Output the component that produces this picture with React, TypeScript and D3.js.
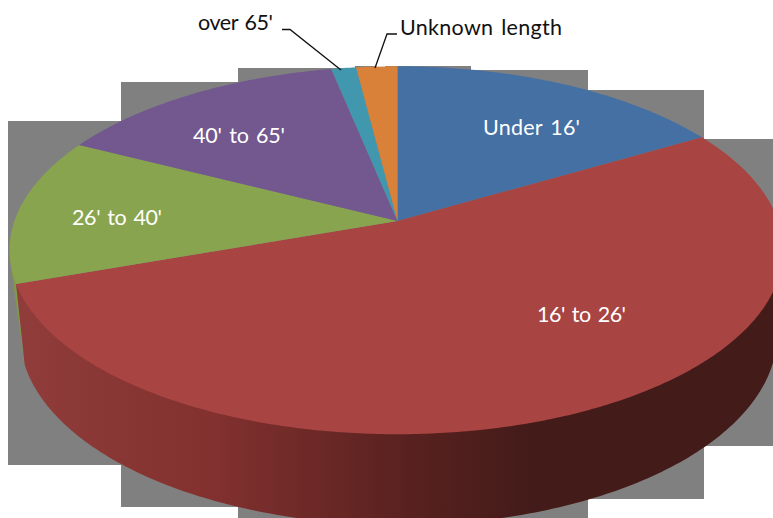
import React from "react";
import * as d3 from "d3";

// ---- data ----
const categories = ["Under 16'", "16' to 26'", "26' to 40'", "40' to 65'", "over 65'", "Unknown length"];
const shares = [16.6, 53.0, 12.9, 14.3, 1.2, 2.0];
const sliceColors = ["#4570a4", "#a84442", "#89a44e", "#72588f", "#4197ad", "#d98139"];

// stepped grey backdrop behind the pie
const stepEdges = [8, 121, 238, 355, 471, 588, 704, 773];
const stepTops = [121, 82, 68, 66, 70, 90, 139];
const stepBottoms = [465, 507, 518, 518, 518, 499, 446];

// label placement: [left x, baseline y, width]
const labelPlace: [number, number, number][] = [
  [483, 135, 97],
  [537, 322, 89],
  [72, 225, 90],
  [193, 143, 92],
  [198, 30, 75],
  [400, 35, 162],
];
const labelFill = ["#fff", "#fff", "#fff", "#fff", "#111", "#111"];

const leaderOver: [number, number][] = [[282, 29.5], [290, 29.5], [341, 70]];
const leaderUnknown: [number, number][] = [[397, 34], [387, 34], [375, 68]];

// ---- geometry ----
const W = 773, H = 518;
const top = { cx: 397.5, cy: 250.25, rxL: 388, rxR: 385.5, ry: 184 };
const bottom = { cx: 400, cy: 335, rxL: 380, rxR: 377, ry: 190 };
const apexY = 221;
const v0 = (apexY - top.cy) / top.ry;

// projective map: angle clockwise from the top of a circle -> point on the tilted face
function project(a: number, r = 1): [number, number] {
  const c = Math.sin(a) * r;
  const s = -Math.cos(a) * r;
  const d = 1 + v0 * s;
  const u = (c * Math.sqrt(1 - v0 * v0)) / d;
  const v = (s + v0) / d;
  return [top.cx + u * (u < 0 ? top.rxL : top.rxR), top.cy + v * top.ry];
}
const ell = (e: typeof top, deg: number): [number, number] => {
  const co = Math.cos((deg * Math.PI) / 180);
  return [e.cx + (co < 0 ? e.rxL : e.rxR) * co, e.cy + e.ry * Math.sin((deg * Math.PI) / 180)];
};

const pie = d3.pie<number>().sort(null).value((d) => d).startAngle(0).endAngle(2 * Math.PI);
const arcs = pie(shares);
const line = d3.line<[number, number]>();

function slicePath(a0: number, a1: number) {
  const n = Math.max(4, Math.ceil((a1 - a0) / 0.01));
  const pts: [number, number][] = [project(0, 0)];
  for (const t of d3.range(n + 1)) pts.push(project(a0 + ((a1 - a0) * t) / n));
  return line(pts) + "Z";
}

const redEnd = project(arcs[1].endAngle);

// red side wall: from the red slice's left end, around the lower rim to the right
const wallStart = ell(bottom, 171);
const bottomArc = d3.range(171, -2, -1).map((d) => ell(bottom, d));
const wallPath = line([redEnd, ...bottomArc, ell(top, 0)]) + "Z";

// sliver of green side wall, left of the red wall
const greenTop = ell(top, 175.5);
const greenPath = line([greenTop, wallStart, redEnd]) + "Z";

// faint highlight on the rim of the orange slice
const orange = arcs[5];
const glint = line(
  d3.range(6).map((i) =>
    project(orange.startAngle + ((orange.endAngle - orange.startAngle) * (0.5 + i * 0.04)))
  )
)!;

const labelFont = "Lato, Carlito, 'Open Sans', sans-serif";

export default function App() {
  return (
    <svg
      width={W}
      height={H}
      viewBox={`0 0 ${W} ${H}`}
      style={{ position: "absolute", left: 0, top: 0, background: "#fff", display: "block" }}
    >
      <defs>
        <linearGradient id="wall" gradientUnits="userSpaceOnUse" x1={25} x2={560} y1={0} y2={0}>
          <stop offset="0" stopColor="#8f3c3a" />
          <stop offset="0.35" stopColor="#82312f" />
          <stop offset="0.7" stopColor="#5a2220" />
          <stop offset="0.95" stopColor="#431b19" />
          <stop offset="1" stopColor="#431b19" />
        </linearGradient>
      </defs>
      {stepTops.map((t, i) => (
        <rect
          key={i}
          x={stepEdges[i]}
          y={t}
          width={stepEdges[i + 1] - stepEdges[i]}
          height={stepBottoms[i] - t}
          fill="#808080"
        />
      ))}
      <path d={greenPath} fill="#7f9a47" />
      <path d={wallPath} fill="url(#wall)" />
      {arcs.map((a, i) => (
        <path key={i} d={slicePath(a.startAngle, a.endAngle)} fill={sliceColors[i]} />
      ))}
      <path d={glint} fill="none" stroke="#f0e6dc" strokeWidth={1} />
      <path d={line(leaderOver)!} fill="none" stroke="#111" strokeWidth={1.3} />
      <path d={line(leaderUnknown)!} fill="none" stroke="#111" strokeWidth={1.3} />
      {categories.map((c, i) => (
        <text
          key={c}
          x={labelPlace[i][0]}
          y={labelPlace[i][1]}
          fill={labelFill[i]}
          fontFamily={labelFont}
          fontSize={21.5}
          wordSpacing={2}
          textLength={labelPlace[i][2]}
          lengthAdjust="spacing"
        >
          {c}
        </text>
      ))}
    </svg>
  );
}
